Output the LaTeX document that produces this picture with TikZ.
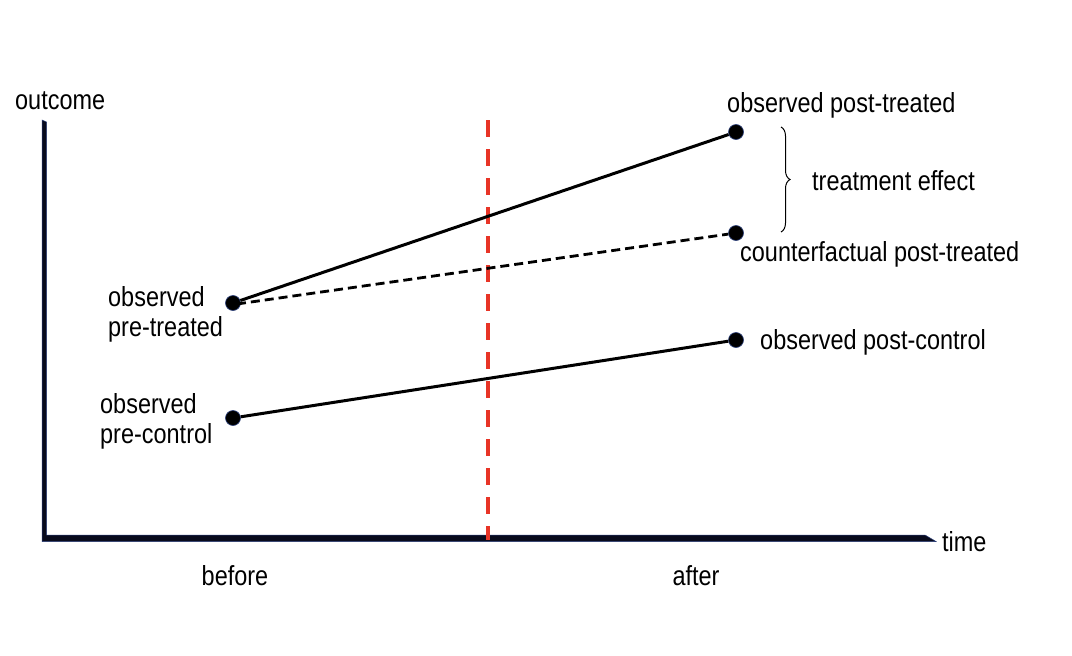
\documentclass[tikz,border=0pt]{standalone}
\usepackage{fontspec}
\setmainfont{Liberation Sans}[FakeStretch=0.85]
\usetikzlibrary{decorations.pathreplacing}
\definecolor{axisfill}{RGB}{8,10,28}
\definecolor{axisedge}{RGB}{40,60,120}
\definecolor{cutred}{RGB}{232,52,38}
\tikzset{
  dot/.style={circle,fill=black,draw=axisedge,line width=0.6pt,inner sep=0pt,minimum size=15pt},
  lbl/.style={font=\fontsize{27.6}{30}\selectfont,inner sep=0pt,align=left},
  trend/.style={line width=3pt,black},
  cf/.style={line width=2.8pt,black,dash pattern=on 9pt off 5pt},
}
\begin{document}
\begin{tikzpicture}[x=1pt,y=-1pt]
\useasboundingbox[fill=white] (0,0) rectangle (1072,656);
% axes
\fill[axisfill,draw=axisedge,line width=0.5pt] (42,120) -- (46.5,122) -- (46.5,535) -- (925,535) -- (936,541.5) -- (42,541.5) -- cycle;
% red cut line
\draw[cutred,line width=3.4pt,dash pattern=on 17pt off 12pt] (488,120) -- (488,540);
% dots
\node[dot] (pt) at (233,303) {};
\node[dot] (pc) at (233,418) {};
\node[dot] (qt) at (736,132) {};
\node[dot] (qf) at (736,233) {};
\node[dot] (qc) at (736,340) {};
% lines
\draw[trend] (pt) -- (qt);
\draw[cf] (pt.center) ++(4,1) -- (qf);
\draw[trend] (pc) -- (qc);
% brace
\coordinate (b1) at (781,127);
\coordinate (b2) at (781,232);
\draw[line width=1pt,decorate,decoration={brace,amplitude=9pt,raise=0pt}] (b1) -- (b2);
% labels
\node[lbl,anchor=west] (lo) at (15,101) {outcome};
\node[lbl,anchor=west] (lt) at (942,542) {time};
\node[lbl] (lb) at (235,576) {before};
\node[lbl] (la) at (696,576) {after};
\node[lbl,anchor=west] (l1) at (108,314) {observed\\pre-treated};
\node[lbl,anchor=west] (l2) at (100,421) {observed\\pre-control};
\node[lbl,anchor=west] (l3) at (727,105) {observed post-treated};
\node[lbl,anchor=west] (l4) at (812,181) {treatment effect};
\node[lbl,anchor=west] (l5) at (740,254) {counterfactual post-treated};
\node[lbl,anchor=west] (l6) at (760,342) {observed post-control};
\end{tikzpicture}
\end{document}
